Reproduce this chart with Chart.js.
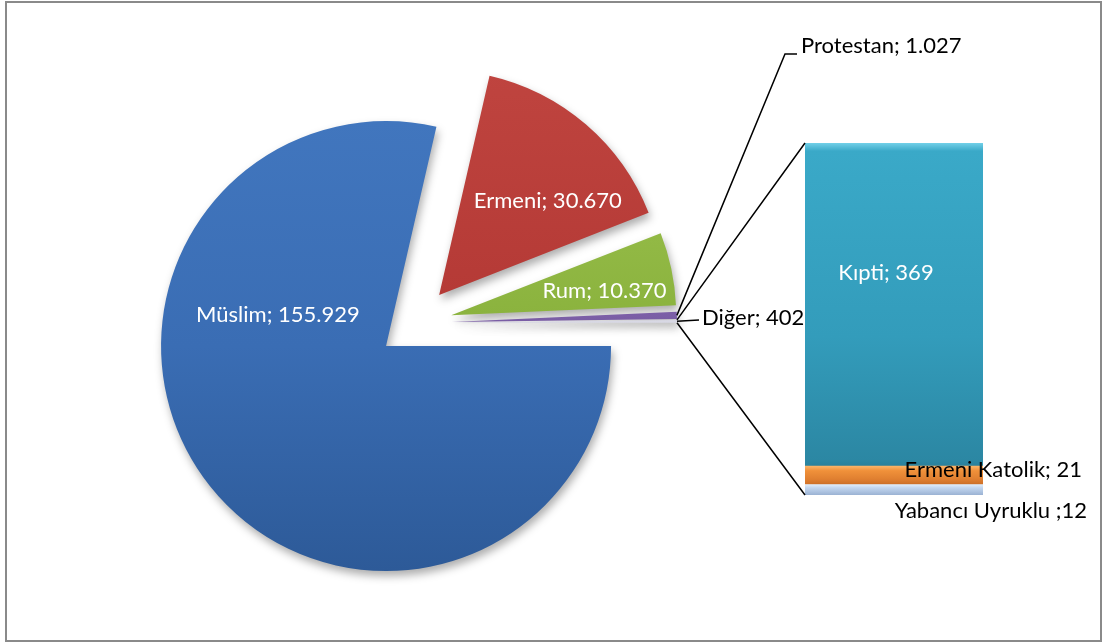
<!DOCTYPE html>
<html>
<head>
<meta charset="utf-8">
<script src="https://cdn.jsdelivr.net/npm/chart.js@4.4.1/dist/chart.umd.min.js"></script>
<style>
  body { margin: 0; background: #fff; }
  #wrap { position: relative; width: 1103px; height: 644px; overflow: hidden; }
  #frame { position: absolute; left: 5px; top: 1px; width: 1093px; height: 637px; border: 2px solid #8a8a8a; }
  canvas { position: absolute; left: 0; top: 0; }
</style>
</head>
<body>
<div id="wrap">
  <div id="frame"></div>
  <canvas id="pie" width="1103" height="644"></canvas>
  <canvas id="bar" width="1103" height="644"></canvas>
</div>
<script>
// pie: main groups, the last one is split out in the bar
const pieLabels = ['Müslim', 'Ermeni', 'Rum', 'Protestan', 'Diğer'];
const pieValues = [155929, 30670, 10370, 1027, 402];
// bar: parts of "Diğer", bottom to top
const barLabels = ['Yabancı Uyruklu', 'Ermeni Katolik', 'Kıpti'];
const barValues = [12, 21, 369];
const barSeps = [' ;', '; ', '; '];

const pieColors = [
  [[0, '#4176be'], [0.5, '#3a6db4'], [1, '#2d5a98']],
  [[0, '#bf443f'], [0.5, '#b53a36'], [1, '#9f2f2c']],
  [[0, '#9fc452'], [0.5, '#8bb33e'], [1, '#769b30']],
  [[0, '#8a70b4'], [0.5, '#7b5ea6'], [1, '#684d90']],
  [[0, '#e6e6ef'], [0.5, '#d8d8e4'], [1, '#c8c8d6']]
];
const barColors = [
  [[0, '#e2edf9'], [0.3, '#c3d7f0'], [1, '#9bb2d3']],
  [[0, '#fbb468'], [0.25, '#f0913a'], [1, '#d5742a']],
  [[0, '#72d0e8'], [0.025, '#3aa9c8'], [0.6, '#339cbb'], [1, '#2b86a2']]
];

const EXPLODE = 37;
const RADIUS = 225;
const FONT = '22px Lato';

// where the white texts sit inside the slices: degrees from 12 o'clock, share of radius
const inLabels = [[286, 0.5], [49, 0.64], [81, 0.69]];
// bar texts: x shift, y shift from segment middle, alignment, colour
const barLabelSpots = [[104, 21, 'right', '#000'], [99, -5, 'right', '#000'], [-8, -32, 'center', '#fff']];

function fmt(v) {
  return String(v).replace(/\B(?=(\d{3})+(?!\d))/g, '.');
}

function vGrad(ctx, top, bottom, stops) {
  const g = ctx.createLinearGradient(0, top, 0, bottom);
  stops.forEach(s => g.addColorStop(s[0], s[1]));
  return g;
}

function sliceCenter(arc) {
  const mid = (arc.startAngle + arc.endAngle) / 2;
  return { x: arc.x + Math.cos(mid) * EXPLODE, y: arc.y + Math.sin(mid) * EXPLODE };
}

function rimPoint(arc, angle) {
  const c = sliceCenter(arc);
  return { x: c.x + Math.cos(angle) * arc.outerRadius, y: c.y + Math.sin(angle) * arc.outerRadius };
}

function pieFill(context) {
  const a = context.chart.chartArea;
  const stops = pieColors[context.dataIndex];
  if (!a) return stops[1][1];
  const cy = (a.top + a.bottom) / 2;
  return vGrad(context.chart.ctx, cy - RADIUS, cy + RADIUS, stops);
}

// every slice pulled out from the middle, with a soft shadow
const explodePlugin = {
  id: 'explode',
  beforeDatasetDraw(chart, args) {
    const ctx = chart.ctx;
    args.meta.data.forEach(arc => {
      const mid = (arc.startAngle + arc.endAngle) / 2;
      ctx.save();
      ctx.translate(Math.cos(mid) * EXPLODE, Math.sin(mid) * EXPLODE);
      ctx.shadowColor = 'rgba(0,0,0,0.32)';
      ctx.shadowBlur = 9;
      ctx.shadowOffsetX = 2;
      ctx.shadowOffsetY = 5;
      arc.draw(ctx);
      ctx.restore();
    });
    return false;
  }
};

const pieLabelPlugin = {
  id: 'pieLabels',
  afterDatasetsDraw(chart) {
    const ctx = chart.ctx;
    const arcs = chart.getDatasetMeta(0).data;
    ctx.save();
    ctx.font = FONT;
    ctx.textBaseline = 'middle';

    ctx.fillStyle = '#fff';
    ctx.textAlign = 'center';
    inLabels.forEach(([deg, f], i) => {
      const c = sliceCenter(arcs[i]);
      const a = (deg - 90) * Math.PI / 180;
      const r = f * arcs[i].outerRadius;
      ctx.fillText(pieLabels[i] + '; ' + fmt(pieValues[i]), c.x + Math.cos(a) * r, c.y + Math.sin(a) * r);
    });

    ctx.strokeStyle = '#000';
    ctx.lineWidth = 1.5;
    ctx.fillStyle = '#000';
    ctx.textAlign = 'left';

    // Protestan, label up top
    const pa = arcs[3];
    const p = rimPoint(pa, (pa.startAngle + pa.endAngle) / 2);
    ctx.beginPath();
    ctx.moveTo(p.x, p.y);
    ctx.lineTo(785, 54);
    ctx.lineTo(797, 54);
    ctx.stroke();
    ctx.fillText(pieLabels[3] + '; ' + fmt(pieValues[3]), 801, 46);

    // Diğer, label just right of the slice
    const da = arcs[4];
    const d = rimPoint(da, (da.startAngle + da.endAngle) / 2);
    ctx.beginPath();
    ctx.moveTo(d.x, d.y);
    ctx.lineTo(699, 320);
    ctx.stroke();
    ctx.fillText(pieLabels[4] + '; ' + fmt(pieValues[4]), 702, 318);
    ctx.restore();
  }
};

const pieChart = new Chart(document.getElementById('pie'), {
  type: 'pie',
  data: {
    labels: pieLabels,
    datasets: [{ data: pieValues, backgroundColor: pieFill, borderWidth: 0 }]
  },
  options: {
    responsive: false,
    animation: false,
    events: [],
    rotation: 90,
    radius: RADIUS,
    layout: { padding: { left: 190, right: 463, top: 98, bottom: 96 } },
    plugins: { legend: { display: false }, tooltip: { enabled: false } }
  },
  plugins: [explodePlugin, pieLabelPlugin]
});

function barFill(context, i) {
  const chart = context.chart;
  const y = chart.scales.y;
  const base = barColors[i][1][1];
  if (!y) return base;
  const below = barValues.slice(0, i).reduce((s, v) => s + v, 0);
  const top = y.getPixelForValue(below + barValues[i]);
  const bottom = y.getPixelForValue(below);
  if (!isFinite(top) || !isFinite(bottom) || top === bottom) return base;
  return vGrad(chart.ctx, top, bottom, barColors[i]);
}

const barShadow = {
  id: 'barShadow',
  beforeDatasetsDraw(chart) {
    const ctx = chart.ctx;
    ctx.save();
    ctx.shadowColor = 'rgba(0,0,0,0.3)';
    ctx.shadowBlur = 8;
    ctx.shadowOffsetX = 3;
    ctx.shadowOffsetY = 4;
  },
  afterDatasetsDraw(chart) {
    chart.ctx.restore();
  }
};

const barLabelPlugin = {
  id: 'barLabels',
  afterDraw(chart) {
    const ctx = chart.ctx;
    ctx.save();

    // lines from the "Diğer" slice to the bar corners
    const da = pieChart.getDatasetMeta(0).data[4];
    const s = rimPoint(da, da.startAngle);
    const e = rimPoint(da, da.endAngle);
    const topBar = chart.getDatasetMeta(barValues.length - 1).data[0];
    const lowBar = chart.getDatasetMeta(0).data[0];
    const left = topBar.x - topBar.width / 2;
    ctx.strokeStyle = '#000';
    ctx.lineWidth = 1.5;
    ctx.beginPath();
    ctx.moveTo(s.x, s.y);
    ctx.lineTo(left, topBar.y);
    ctx.moveTo(e.x, e.y);
    ctx.lineTo(left, lowBar.base);
    ctx.stroke();

    ctx.font = FONT;
    ctx.textBaseline = 'middle';
    barLabels.forEach((name, i) => {
      const bar = chart.getDatasetMeta(i).data[0];
      const [dx, dy, align, color] = barLabelSpots[i];
      const midY = (bar.y + bar.base) / 2;
      const x = align === 'right' ? bar.x + bar.width / 2 + dx : bar.x + dx;
      ctx.textAlign = align;
      ctx.fillStyle = color;
      ctx.fillText(name + barSeps[i] + barValues[i], x, midY + dy);
    });
    ctx.restore();
  }
};

new Chart(document.getElementById('bar'), {
  type: 'bar',
  data: {
    labels: [''],
    datasets: barLabels.map((name, i) => ({
      label: name,
      data: [barValues[i]],
      backgroundColor: ctx => barFill(ctx, i),
      borderWidth: 0,
      barPercentage: 1,
      categoryPercentage: 1
    }))
  },
  options: {
    responsive: false,
    animation: false,
    events: [],
    layout: { padding: { left: 805, right: 120, top: 143, bottom: 149 } },
    scales: {
      x: { stacked: true, display: false },
      y: { stacked: true, display: false, min: 0, max: barValues.reduce((s, v) => s + v, 0) }
    },
    plugins: { legend: { display: false }, tooltip: { enabled: false } }
  },
  plugins: [barShadow, barLabelPlugin]
});
</script>
</body>
</html>
